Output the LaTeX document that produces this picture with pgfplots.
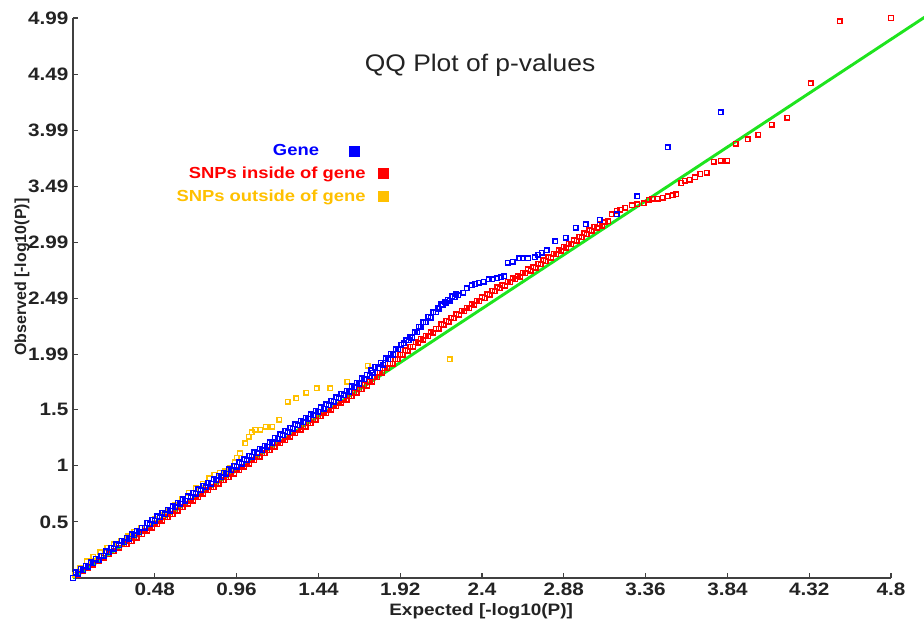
\documentclass[border=0pt]{standalone}
\usepackage{pgfplots}
\pgfplotsset{compat=1.18}
\usepackage{fontspec}
\setmainfont{Liberation Sans}
\newfontfamily\wfont[FakeStretch=1.15]{Liberation Sans}
\newfontfamily\tfont[FakeStretch=1.1]{Liberation Sans}
\definecolor{qblue}{RGB}{0,0,255}
\definecolor{qred}{RGB}{255,0,0}
\definecolor{qorange}{RGB}{255,192,0}
\definecolor{qgreen}{RGB}{30,228,30}
\definecolor{qtext}{RGB}{35,35,35}

\begin{document}
\begin{tikzpicture}
\begin{axis}[
  scale only axis,
  width=613.5pt, height=420pt,
  xmin=0, xmax=4.8, ymin=0, ymax=4.99,
  axis lines*=left,
  axis line style={line width=1pt, color=black!75},
  tick align=inside,
  major tick length=3.75pt,
  tick style={line width=0.8pt, color=black!75},
  xtick={0.48,0.96,1.44,1.92,2.4,2.88,3.36,3.84,4.32,4.8},
  xticklabels={0.48,0.96,1.44,1.92,2.4,2.88,3.36,3.84,4.32,4.8},
  ytick={0.5,1,1.5,1.99,2.49,2.99,3.49,3.99,4.49,4.99},
  yticklabels={0.5,1,1.5,1.99,2.49,2.99,3.49,3.99,4.49,4.99},
  ticklabel style={font=\wfont\bfseries\fontsize{13.5}{13.5}\selectfont, text=qtext},
  xlabel={Expected [-log10(P)]},
  ylabel={Observed [-log10(P)]},
  every axis x label/.style={at={(axis description cs:0.499,0)}, anchor=center, yshift=-24.75pt,
    font=\wfont\bfseries\fontsize{12.4}{12.4}\selectfont, text=qtext},
  every axis y label/.style={at={(axis description cs:-0.0623,0.537)}, rotate=90, anchor=center,
    font=\bfseries\fontsize{12}{12}\selectfont, text=qtext},
  title={QQ Plot of p-values},
  every axis title/.style={at={(axis description cs:0.4976,0.916)}, anchor=center,
    font=\tfont\fontsize{18}{18}\selectfont, text=qtext},
  clip=false,
  legend plot pos=right,
  legend cell align=right,
  reverse legend,
  legend style={draw=none, fill=none, at={(axis cs:1.855,3.89)}, anchor=north east,
    row sep=3pt, column sep=7.5pt, inner sep=0pt,
    font=\wfont\bfseries\fontsize{12}{12}\selectfont},
]
\addplot[forget plot, qgreen, line width=2.2pt] coordinates {(0,0) (5,5)};

% SNPs outside of gene
\addplot[only marks, mark=square, mark size=1.7pt, qorange, mark options={solid, draw=qorange, line width=1.1pt},
  legend image code/.code={\fill[qorange] (0pt,-3.75pt) rectangle (7.5pt,3.75pt);}]
coordinates {
(0.01,0.03) (0.04,0.09) (0.08,0.15) (0.12,0.19) (0.16,0.23) (0.20,0.27) (0.24,0.30)
(0.28,0.33) (0.32,0.37) (0.36,0.41) (0.40,0.45) (0.44,0.49) (0.48,0.53) (0.52,0.56)
(0.56,0.60) (0.60,0.65) (0.64,0.70) (0.68,0.76) (0.72,0.80) (0.76,0.84) (0.80,0.89)
(0.83,0.92) (0.86,0.94) (0.89,0.95) (0.92,0.98) (0.95,1.03) (0.96,1.07) (0.98,1.11)
(1.01,1.20) (1.03,1.26) (1.05,1.30) (1.07,1.32) (1.10,1.32) (1.13,1.35) (1.17,1.35)
(1.21,1.41) (1.26,1.57) (1.31,1.60) (1.37,1.65) (1.43,1.69) (1.51,1.69) (1.61,1.75)
(1.73,1.89) (2.21,1.95)
};
\addlegendentry{\textcolor{qorange}{SNPs outside of gene}}

% SNPs inside of gene
\addplot[only marks, mark=square, mark size=1.7pt, qred, mark options={solid, draw=qred, line width=1.1pt},
  legend image code/.code={\fill[qred] (0pt,-3.75pt) rectangle (7.5pt,3.75pt);}]
coordinates {
(0.00,0.00) (0.03,0.03) (0.06,0.06) (0.09,0.09) (0.12,0.12) (0.15,0.15) (0.18,0.18)
(0.21,0.21) (0.24,0.24) (0.27,0.27) (0.30,0.30) (0.33,0.33) (0.36,0.36) (0.39,0.39)
(0.42,0.42) (0.45,0.45) (0.48,0.48) (0.51,0.51) (0.54,0.54) (0.57,0.57) (0.60,0.60)
(0.63,0.63) (0.66,0.66) (0.69,0.69) (0.72,0.72) (0.75,0.75) (0.78,0.78) (0.81,0.81)
(0.84,0.84) (0.87,0.87) (0.90,0.90) (0.93,0.93) (0.96,0.96) (0.99,0.99) (1.02,1.02)
(1.05,1.05) (1.08,1.08) (1.11,1.11) (1.14,1.14) (1.17,1.17) (1.20,1.20) (1.23,1.23)
(1.26,1.26) (1.29,1.29) (1.32,1.32) (1.35,1.35) (1.38,1.38) (1.41,1.41) (1.44,1.44)
(1.47,1.47) (1.50,1.50) (1.53,1.53) (1.56,1.56) (1.59,1.59) (1.62,1.62) (1.65,1.65)
(0.315,0.30) (0.345,0.33) (0.375,0.36) (0.405,0.39) (0.435,0.42) (0.465,0.45)
(0.495,0.48) (0.525,0.51) (0.555,0.54) (0.585,0.57) (0.615,0.60) (0.645,0.63)
(0.675,0.66) (0.705,0.69) (0.735,0.72) (0.765,0.75) (0.795,0.78) (0.825,0.81)
(0.855,0.84) (0.885,0.87) (0.915,0.90) (0.945,0.93) (0.975,0.96) (1.005,0.99)
(1.035,1.02) (1.065,1.05) (1.095,1.08) (1.125,1.11) (1.155,1.14) (1.185,1.17)
(1.215,1.20) (1.245,1.23) (1.275,1.26) (1.305,1.29) (1.335,1.32) (1.365,1.35)
(1.395,1.38) (1.425,1.41) (1.455,1.44) (1.485,1.47) (1.515,1.50) (1.545,1.53)
(1.575,1.56) (1.605,1.59) (1.635,1.62) (1.665,1.65) (1.695,1.68)
(1.68,1.68) (1.71,1.72) (1.74,1.75) (1.77,1.79) (1.80,1.83) (1.83,1.87) (1.86,1.91)
(1.89,1.95) (1.92,1.99) (1.95,2.03) (1.98,2.06) (2.01,2.10) (2.04,2.13) (2.07,2.16)
(2.10,2.19) (2.13,2.22) (2.16,2.26) (2.19,2.29) (2.22,2.32) (2.25,2.35) (2.28,2.38)
(2.31,2.41) (2.34,2.44) (2.37,2.47) (2.40,2.50) (2.43,2.53) (2.46,2.56) (2.49,2.59)
(2.52,2.61) (2.55,2.64) (2.58,2.67) (2.61,2.69) (2.64,2.72) (2.67,2.75) (2.70,2.77)
(2.73,2.80) (2.76,2.83) (2.79,2.86) (2.82,2.89) (2.85,2.92) (2.88,2.95) (2.91,2.98)
(2.94,3.01) (2.97,3.04) (3.00,3.07) (3.03,3.10) (3.06,3.13) (3.09,3.15) (3.12,3.17)
(1.725,1.715) (1.755,1.75) (1.785,1.79) (1.815,1.83) (1.845,1.87) (1.875,1.91)
(1.905,1.95) (1.935,1.99) (1.965,2.025) (1.995,2.06) (2.025,2.095) (2.055,2.125)
(2.085,2.155) (2.115,2.185) (2.145,2.22) (2.175,2.255) (2.205,2.285) (2.235,2.315)
(2.265,2.345) (2.295,2.375) (2.325,2.405) (2.355,2.435) (2.385,2.465) (2.415,2.495)
(2.445,2.525) (2.475,2.555) (2.505,2.58) (2.535,2.605) (2.565,2.635) (2.595,2.66)
(2.625,2.685) (2.655,2.715) (2.685,2.74) (2.715,2.765) (2.745,2.795) (2.775,2.825)
(2.805,2.855) (2.835,2.885) (2.865,2.915) (2.895,2.945) (2.925,2.975) (2.955,3.005)
(2.985,3.035) (3.015,3.065) (3.045,3.095) (3.075,3.12) (3.105,3.14)
(3.14,3.18) (3.16,3.24) (3.19,3.27) (3.21,3.28) (3.24,3.30) (3.28,3.32) (3.31,3.33)
(3.35,3.34) (3.38,3.37) (3.40,3.38) (3.43,3.38) (3.46,3.39) (3.49,3.40) (3.52,3.41)
(3.54,3.42) (3.57,3.52) (3.59,3.54) (3.62,3.55) (3.65,3.57) (3.68,3.60) (3.72,3.61)
(3.76,3.71) (3.80,3.72) (3.84,3.72) (3.89,3.87) (3.96,3.91) (4.02,3.95) (4.10,4.04)
(4.19,4.10) (4.33,4.41) (4.50,4.96) (4.80,4.99)
};
\addlegendentry{\textcolor{qred}{SNPs inside of gene}}

% Gene
\addplot[only marks, mark=square, mark size=1.7pt, qblue, mark options={solid, draw=qblue, line width=1.1pt},
  legend image code/.code={\path[draw=none, fill=none] (0pt,-3.75pt) rectangle (7.5pt,3.75pt);
    \fill[qblue, overlay] (-21.75pt,-3.75pt) rectangle (-14.25pt,3.75pt);}]
coordinates {
(0.00,0.00) (0.03,0.04) (0.06,0.07) (0.09,0.10) (0.12,0.13) (0.15,0.16) (0.18,0.20)
(0.21,0.23) (0.24,0.26) (0.27,0.29) (0.30,0.32) (0.33,0.35) (0.36,0.38) (0.39,0.41)
(0.42,0.45) (0.45,0.48) (0.48,0.51) (0.51,0.54) (0.54,0.57) (0.57,0.60) (0.60,0.63)
(0.63,0.66) (0.66,0.69) (0.69,0.72) (0.72,0.75) (0.75,0.78) (0.78,0.81) (0.81,0.84)
(0.84,0.87) (0.87,0.90) (0.90,0.93) (0.93,0.96) (0.96,0.99) (0.99,1.02) (1.02,1.05)
(1.05,1.08) (1.08,1.11) (1.11,1.14) (1.14,1.17) (1.17,1.20) (1.20,1.24) (1.23,1.27)
(1.26,1.30) (1.29,1.33) (1.32,1.36) (1.35,1.39) (1.38,1.42) (1.41,1.45) (1.44,1.48)
(1.47,1.51) (1.50,1.54) (1.53,1.57) (1.56,1.60) (1.59,1.63) (1.62,1.66) (1.65,1.70)
(0.015,0.05) (0.045,0.08) (0.075,0.11) (0.105,0.14) (0.135,0.17) (0.165,0.20)
(0.195,0.24) (0.225,0.27) (0.255,0.30) (0.285,0.33) (0.315,0.36) (0.345,0.39)
(0.375,0.42) (0.405,0.45) (0.435,0.49) (0.465,0.52) (0.495,0.55) (0.525,0.58)
(0.555,0.61) (0.585,0.64) (0.615,0.67) (0.645,0.70) (0.675,0.73) (0.705,0.76)
(0.735,0.79) (0.765,0.82) (0.795,0.85) (0.825,0.88) (0.855,0.91) (0.885,0.94)
(0.915,0.97) (0.945,1.00) (0.975,1.03) (1.005,1.06) (1.035,1.09) (1.065,1.12)
(1.095,1.15) (1.125,1.18) (1.155,1.21) (1.185,1.25) (1.215,1.28) (1.245,1.31)
(1.275,1.34) (1.305,1.37) (1.335,1.40) (1.365,1.43) (1.395,1.46) (1.425,1.49)
(1.455,1.52) (1.485,1.55) (1.515,1.58) (1.545,1.61) (1.575,1.64) (1.605,1.67)
(1.635,1.71) (1.665,1.74) (1.695,1.78) (1.725,1.81) (1.75,1.85) (1.775,1.88)
(1.805,1.92) (1.835,1.96) (1.865,2.00) (1.895,2.04) (1.925,2.08) (1.955,2.12)
(1.98,2.15) (2.005,2.19) (2.03,2.24) (2.055,2.28) (2.085,2.33) (2.115,2.37)
(2.14,2.41) (2.16,2.44) (2.18,2.46) (2.20,2.48) (2.225,2.51) (2.25,2.53)
(1.68,1.73) (1.71,1.77) (1.74,1.80) (1.76,1.83) (1.79,1.87) (1.82,1.90) (1.85,1.95)
(1.88,1.99) (1.91,2.04) (1.94,2.09) (1.97,2.12) (1.99,2.14) (2.02,2.19) (2.04,2.24)
(2.07,2.28) (2.10,2.32) (2.13,2.37) (2.15,2.40) (2.17,2.43) (2.19,2.45) (2.21,2.47)
(2.24,2.50) (2.26,2.52) (2.29,2.54) (2.31,2.58) (2.34,2.61) (2.36,2.62) (2.38,2.63)
(2.41,2.64) (2.44,2.66) (2.46,2.66) (2.49,2.67) (2.51,2.68) (2.53,2.69) (2.55,2.81)
(2.58,2.82) (2.62,2.85) (2.64,2.85) (2.67,2.85) (2.71,2.86) (2.73,2.88) (2.75,2.90)
(2.78,2.92) (2.83,3.00) (2.89,3.03) (2.95,3.12) (3.01,3.15) (3.09,3.19) (3.19,3.24)
(3.31,3.40) (3.49,3.84) (3.80,4.15)
};
\addlegendentry{\textcolor{qblue}{Gene}\rule{35pt}{0pt}}
\end{axis}
\pgfresetboundingbox
\path[use as bounding box] (-54.75pt,-36pt) rectangle (638.25pt,433.5pt);
\end{tikzpicture}
\end{document}
